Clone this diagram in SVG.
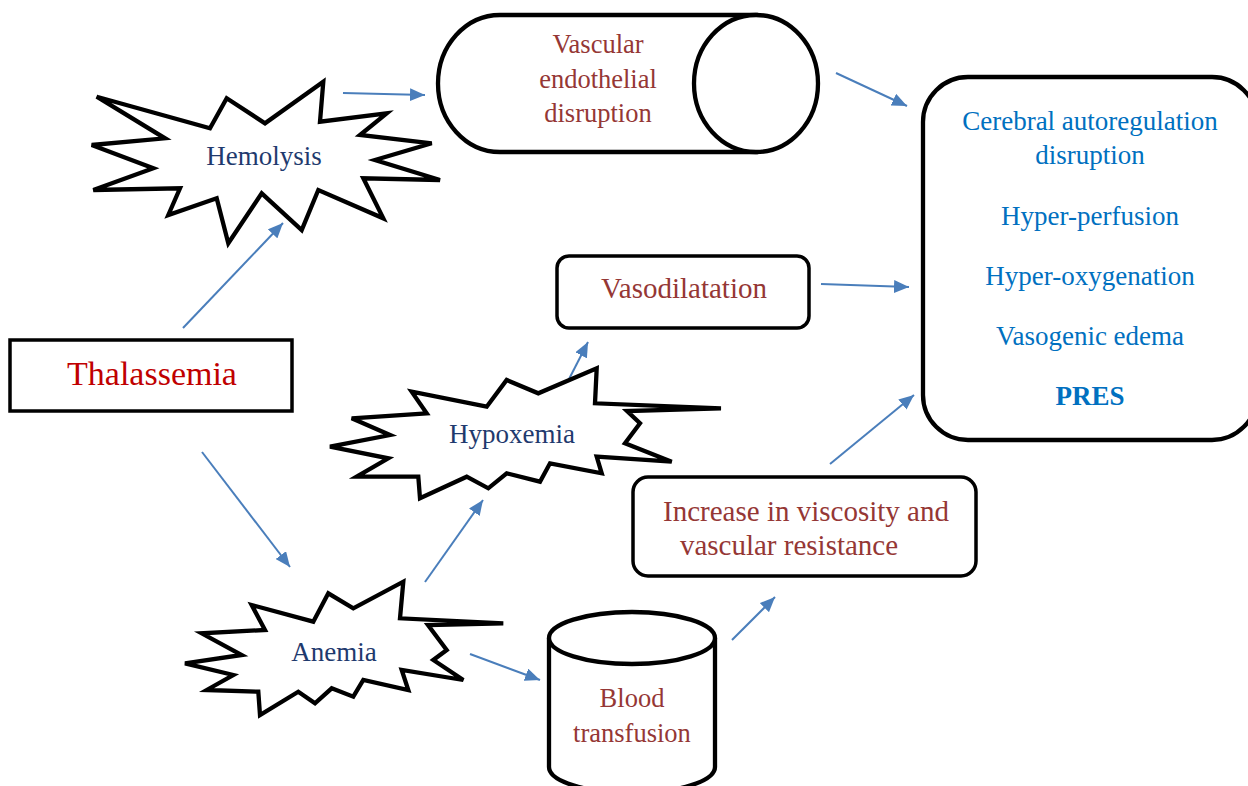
<svg xmlns="http://www.w3.org/2000/svg" width="1248" height="786" viewBox="0 0 1248 786">
<style>
.shape{fill:#fff;stroke:#000;stroke-width:4.3;stroke-linejoin:miter}
.conn{stroke:#4A7EBB;stroke-width:2;fill:none}
text{font-family:"Liberation Serif","Times New Roman",serif;text-anchor:middle}
.navy{fill:#1F3A6E;font-size:27px}
.red{fill:#953735;font-size:26.5px}
.blue{fill:#0070C0;font-size:27px}
</style>
<defs>
<marker id="ah" markerUnits="userSpaceOnUse" markerWidth="16" markerHeight="13" refX="15" refY="6.5" orient="auto">
<path d="M0,0 L15,6.5 L0,13 z" fill="#4A7EBB"/>
</marker>
</defs>
<rect width="1248" height="786" fill="#fff"/>

<g id="connectors">
<line class="conn" x1="183" y1="328" x2="283" y2="223" marker-end="url(#ah)"/>
<line class="conn" x1="343" y1="93" x2="425" y2="95" marker-end="url(#ah)"/>
<line class="conn" x1="836" y1="73" x2="907" y2="106" marker-end="url(#ah)"/>
<line class="conn" x1="821" y1="284" x2="909" y2="287" marker-end="url(#ah)"/>
<line class="conn" x1="830" y1="464" x2="914" y2="395" marker-end="url(#ah)"/>
<line class="conn" x1="202" y1="452" x2="290" y2="567" marker-end="url(#ah)"/>
<line class="conn" x1="425" y1="582" x2="483" y2="500" marker-end="url(#ah)"/>
<line class="conn" x1="567" y1="383" x2="588" y2="342" marker-end="url(#ah)"/>
<line class="conn" x1="470" y1="654" x2="540" y2="680" marker-end="url(#ah)"/>
<line class="conn" x1="732" y1="640" x2="775" y2="597" marker-end="url(#ah)"/>
</g>

<g id="thalassemia">
<rect class="shape" x="10" y="340" width="282" height="71" style="stroke-width:3.5"/>
<text x="152" y="385" style="fill:#C00000;font-size:34px">Thalassemia</text>
</g>

<g id="hemolysis">
<polygon class="shape" points="96.7,96.7 210,128.3 226.7,98.3 265,123.3 323.3,81.7 320,121.7 386.7,113.3 360,135 431.7,143.3 375,160 440,180 363.3,178.3 383.3,218.3 318.3,190 301.7,230 261.7,193.3 228.3,243.3 216.7,198.3 168.3,215 180,188.3 93.3,190 153.3,168.3 91.7,145 165,138.3"/>
<text class="navy" x="264" y="165">Hemolysis</text>
</g>

<g id="vascular">
<path class="shape" d="M500,15 L756,15 L756,152 L500,152 A62,68.5 0 0 1 500,15 Z"/>
<ellipse class="shape" cx="756" cy="83.5" rx="62" ry="68.5"/>
<text class="red" x="598" y="53">Vascular</text>
<text class="red" x="598" y="88">endothelial</text>
<text class="red" x="598" y="122">disruption</text>
</g>

<g id="vasodilatation">
<rect class="shape" x="557" y="256" width="252" height="72" rx="12" style="stroke-width:3.5"/>
<text class="red" x="684" y="298" style="font-size:29px">Vasodilatation</text>
</g>

<g id="hypoxemia">
<polygon class="shape" points="330,446.7 390,435 351.7,418.3 426.7,413.3 411.7,391.7 486.7,406.7 506.7,380 538.3,393.3 596.7,368.3 595,403.3 721,408.3 627,411 640,423.3 625,443.3 671.7,461.7 596.7,456.7 601.7,473.3 550,463.3 540,481.7 506.7,473.3 488.3,488.3 466.7,476.7 420,498.3 418.3,476.7 356.7,476.7 388.3,458.3"/>
<text class="navy" x="512" y="443">Hypoxemia</text>
</g>

<g id="anemia">
<polygon class="shape" points="185,663.3 241.7,655 201.7,633.3 265,630 251.7,605 313.3,621.7 328.3,593.3 353.3,608.3 403.3,581.7 400,618.3 503.3,623.3 428,625 446.7,650 433.3,660 463.3,680 401.7,670 408.3,690 363.3,680 353.3,696.7 331.7,688.3 315,703.3 298.3,691.7 260,715 258.3,691.7 206.7,690 233.3,675"/>
<text class="navy" x="334" y="661">Anemia</text>
</g>

<g id="increase">
<rect class="shape" x="633" y="477" width="343" height="99" rx="15" style="stroke-width:3.5"/>
<text class="red" x="806" y="521" style="font-size:29px">Increase in viscosity and</text>
<text class="red" x="789" y="555" style="font-size:29px">vascular resistance</text>
</g>

<g id="blood">
<path class="shape" d="M549,638 L549,767 A83,26 0 0 0 715,767 L715,638"/>
<ellipse class="shape" cx="632" cy="638" rx="83" ry="26"/>
<text class="red" x="632" y="707">Blood</text>
<text class="red" x="632" y="742">transfusion</text>
</g>

<g id="pres">
<rect class="shape" x="923" y="77" width="334" height="363" rx="45"/>
<text class="blue" x="1090" y="130">Cerebral autoregulation</text>
<text class="blue" x="1090" y="164">disruption</text>
<text class="blue" x="1090" y="225">Hyper-perfusion</text>
<text class="blue" x="1090" y="285">Hyper-oxygenation</text>
<text class="blue" x="1090" y="345">Vasogenic edema</text>
<text class="blue" x="1090" y="405" style="font-weight:bold">PRES</text>
</g>
</svg>
